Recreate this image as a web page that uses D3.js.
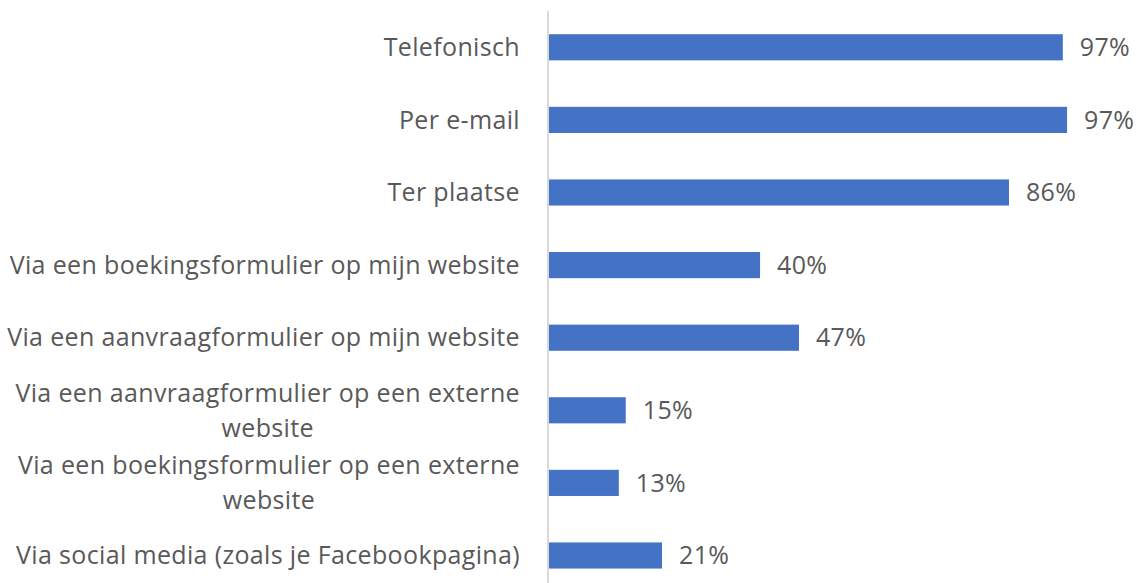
<!DOCTYPE html>
<html>
<head>
<meta charset="utf-8">
<script src="https://cdn.jsdelivr.net/npm/d3@7"></script>
<style>
  html, body { margin: 0; padding: 0; background: #fff; }
  svg { display: block; }
</style>
</head>
<body>
<svg id="chart" width="1139" height="583"></svg>
<script>
const categories = [
  ["Telefonisch"],
  ["Per e-mail"],
  ["Ter plaatse"],
  ["Via een boekingsformulier op mijn website"],
  ["Via een aanvraagformulier op mijn website"],
  ["Via een aanvraagformulier op een externe", "website"],
  ["Via een boekingsformulier op een externe", "website"],
  ["Via social media (zoals je Facebookpagina)"]
];
const values = [96.4, 97.2, 86.3, 39.6, 46.9, 14.4, 13.1, 21.2];
const valueLabels = ["97%", "97%", "86%", "40%", "47%", "15%", "13%", "21%"];

const W = 1139, H = 583;
const margin = { top: 11, right: 0, bottom: 0, left: 549 };
const svg = d3.select("#chart");
const font = "'Open Sans', sans-serif";
const fontSize = 25;
const textColor = "#595959";

const x = d3.scaleLinear().domain([0, 100]).range([margin.left, margin.left + 533]);
const idx = d3.range(categories.length);
const y = d3.scaleBand().domain(idx).range([11, 11 + 8 * 72.6]).paddingInner(0.64).paddingOuter(0.32);

// axis line
svg.append("line")
  .attr("x1", margin.left - 1).attr("x2", margin.left - 1)
  .attr("y1", 11).attr("y2", H)
  .attr("stroke", "#d9d9d9").attr("stroke-width", 2);

// bars
svg.selectAll("rect.bar").data(idx).enter().append("rect")
  .attr("class", "bar")
  .attr("x", x(0))
  .attr("y", i => y(i))
  .attr("width", i => x(values[i]) - x(0))
  .attr("height", y.bandwidth())
  .attr("fill", "#4472c4");

// value labels
svg.selectAll("text.val").data(idx).enter().append("text")
  .attr("class", "val")
  .attr("x", i => x(values[i]) + 17)
  .attr("y", i => y(i) + y.bandwidth() / 2)
  .attr("dy", "0.35em")
  .attr("font-family", font).attr("font-size", fontSize)
  .attr("letter-spacing", "0.35px")
  .attr("fill", textColor)
  .text(i => valueLabels[i]);

// category labels
const labelRight = 520;
const lineH = 35;
idx.forEach(i => {
  const lines = categories[i];
  const cy = y(i) + y.bandwidth() / 2;
  const g = svg.append("g");
  const texts = lines.map((ln, k) => g.append("text")
    .attr("y", cy + (k - (lines.length - 1) / 2) * lineH)
    .attr("dy", "0.35em")
    .attr("font-family", font).attr("font-size", fontSize)
    .attr("letter-spacing", "0.35px")
    .attr("fill", textColor)
    .text(ln));
  if (lines.length === 1) {
    texts[0].attr("x", labelRight).attr("text-anchor", "end");
  } else {
    const maxW = d3.max(texts, t => t.node().getComputedTextLength());
    texts.forEach(t => t.attr("x", labelRight - maxW / 2).attr("text-anchor", "middle"));
  }
});
</script>
</body>
</html>
